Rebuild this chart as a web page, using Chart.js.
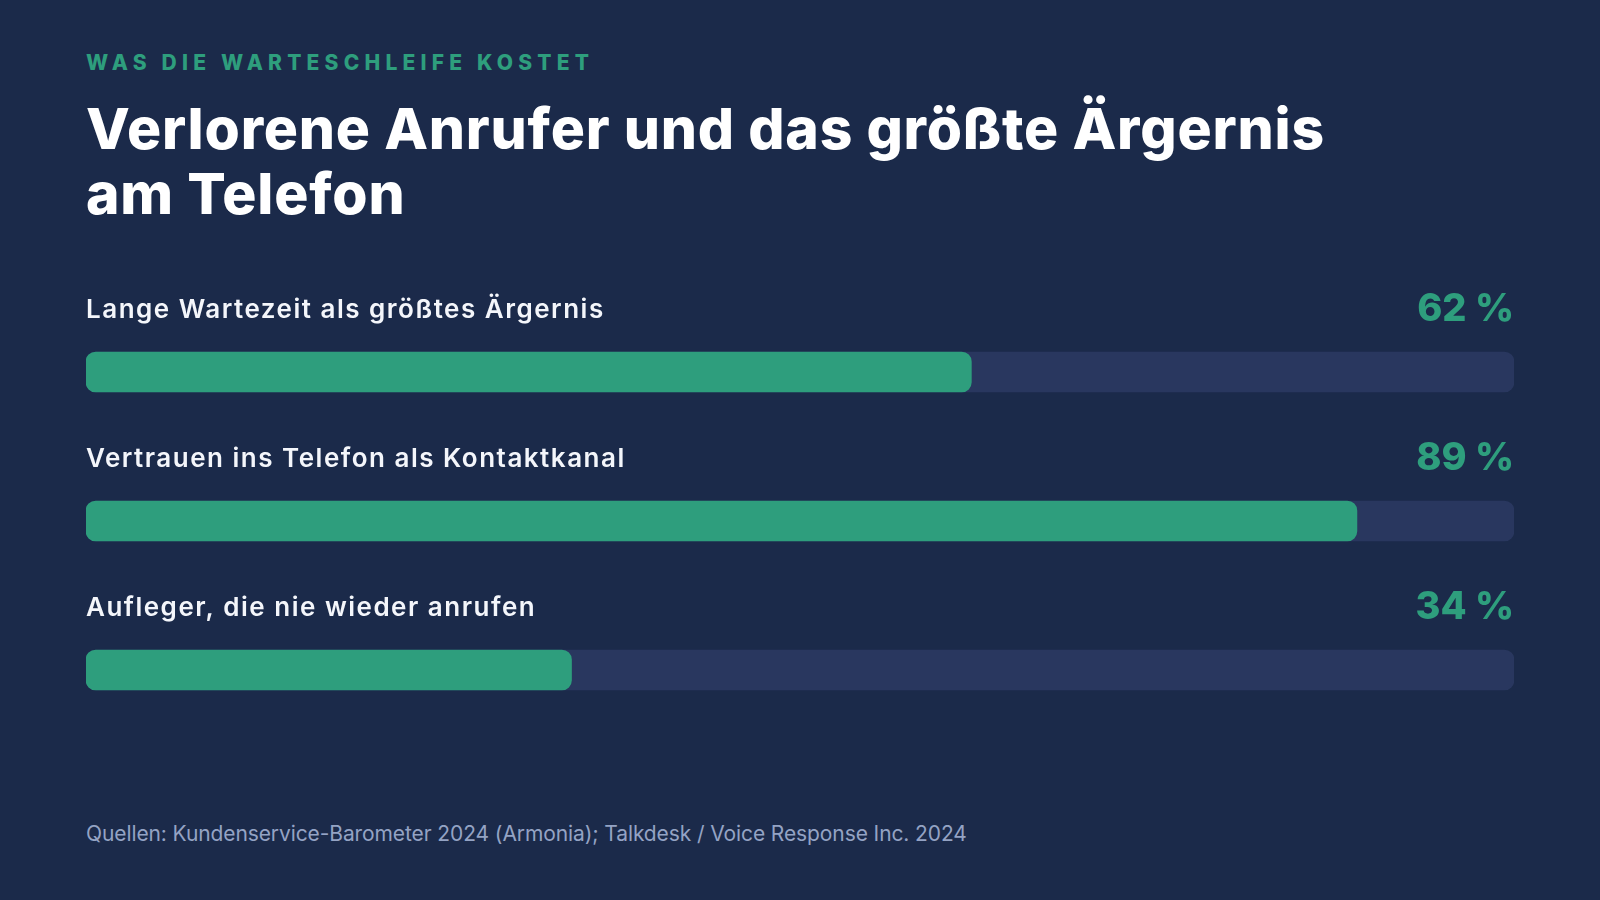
<!DOCTYPE html>
<html lang="de">
<head>
<meta charset="utf-8">
<title>Verlorene Anrufer und das größte Ärgernis am Telefon</title>
<script src="https://cdn.jsdelivr.net/npm/chart.js@4.4.1/dist/chart.umd.min.js"></script>
<style>
  html, body { margin: 0; padding: 0; }
  body {
    width: 1600px; height: 900px; overflow: hidden;
    background: #1b2a4a;
    font-family: Inter, "Noto Sans", sans-serif;
    position: relative;
  }
  .kicker {
    position: absolute; left: 86px; top: 52px;
    font-size: 21px; line-height: 21px; font-weight: 800;
    letter-spacing: 5.2px; color: #2e9e7d;
  }
  .title {
    position: absolute; left: 86px; top: 96px;
    font-size: 57px; line-height: 65px; font-weight: 800;
    letter-spacing: 0.8px; color: #ffffff; margin: 0;
  }
  .source {
    position: absolute; left: 86px; top: 823px;
    font-size: 21px; line-height: 21px; font-weight: 400;
    letter-spacing: -0.1px; color: #94a3c4;
  }
  .chart-box {
    position: absolute; left: 86px; top: 250px;
    width: 1428px; height: 500px;
  }
</style>
</head>
<body>

<div class="kicker">WAS DIE WARTESCHLEIFE KOSTET</div>
<h1 class="title">Verlorene Anrufer und das größte Ärgernis<br>am Telefon</h1>
<div class="chart-box"><canvas id="bars"></canvas></div>
<div class="source">Quellen: Kundenservice-Barometer 2024 (Armonia); Talkdesk / Voice Response Inc. 2024</div>

<script>
// ── Data ──────────────────────────────────────────────────────────────────────
const categories = [
  'Lange Wartezeit als größtes Ärgernis',
  'Vertrauen ins Telefon als Kontaktkanal',
  'Aufleger, die nie wieder anrufen'
];
const values   = [62, 89, 34];
const trackMax = [100, 100, 100];

const GREEN = '#2e9e7d';
const TRACK = '#29375f';

// ── Labels above each bar: category left, percentage right ───────────────────
const rowLabels = {
  id: 'rowLabels',
  afterDatasetsDraw(chart) {
    const ctx = chart.ctx;
    const meta = chart.getDatasetMeta(1); // track dataset spans full width
    const area = chart.chartArea;
    ctx.save();
    meta.data.forEach((bar, i) => {
      const top = bar.y - bar.height / 2;

      ctx.font = '600 26px Inter, "Noto Sans", sans-serif';
      ctx.letterSpacing = '1.5px';
      ctx.fillStyle = '#f4f6fb';
      ctx.textAlign = 'left';
      ctx.textBaseline = 'alphabetic';
      ctx.fillText(categories[i], area.left, top - 34);

      ctx.font = '800 38px Inter, "Noto Sans", sans-serif';
      ctx.letterSpacing = '0px';
      ctx.fillStyle = GREEN;
      ctx.textAlign = 'right';
      ctx.fillText(values[i] + ' %', area.right, top - 31);
    });
    ctx.restore();
  }
};

new Chart(document.getElementById('bars'), {
  type: 'bar',
  data: {
    labels: categories,
    datasets: [
      {
        label: 'Anteil',
        data: values,
        backgroundColor: GREEN,
        borderRadius: 10,
        borderSkipped: false,
        barThickness: 40,
        grouped: false,
        order: 1
      },
      {
        label: 'Gesamt',
        data: trackMax,
        backgroundColor: TRACK,
        borderRadius: 10,
        borderSkipped: false,
        barThickness: 40,
        grouped: false,
        order: 2
      }
    ]
  },
  options: {
    indexAxis: 'y',
    animation: false,
    responsive: true,
    maintainAspectRatio: false,
    layout: { padding: { top: 47.5, bottom: 5.5, left: 0, right: 0 } },
    scales: {
      x: { display: false, min: 0, max: 100 },
      y: { display: false }
    },
    plugins: {
      legend: { display: false },
      tooltip: { enabled: false }
    }
  },
  plugins: [rowLabels]
});
</script>
</body>
</html>
